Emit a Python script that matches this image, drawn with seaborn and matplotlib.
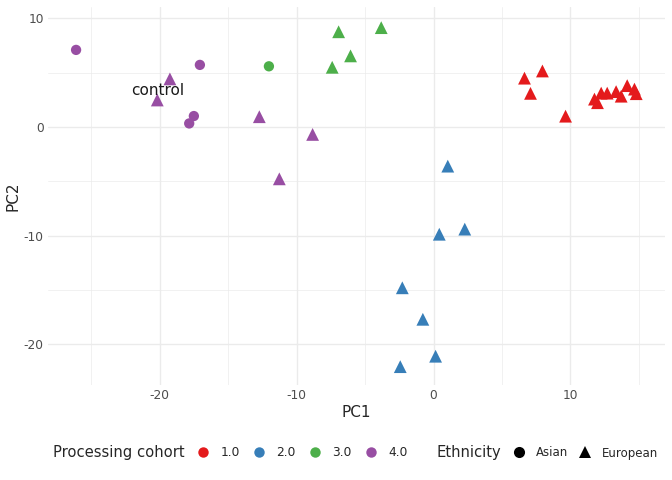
import matplotlib
matplotlib.use("Agg")
import matplotlib.pyplot as plt
from matplotlib.lines import Line2D
from matplotlib.ticker import MultipleLocator
import seaborn as sns
import pandas as pd

# PCA scores
pc1 = [6.64, 7.08, 7.95, 9.64, 11.75, 11.97, 12.24, 12.68, 13.33, 13.70, 14.14, 14.67, 14.80,
       1.04, 0.42, 2.28, -2.28, -0.78, 0.15, -2.43,
       -12.02, -6.93, -3.82, -6.06, -7.40,
       -26.10, -17.06, -17.50, -17.84, -19.25, -20.17, -12.72, -8.83, -11.26]
pc2 = [4.50, 3.10, 5.16, 1.00, 2.57, 2.24, 3.12, 3.12, 3.26, 2.84, 3.81, 3.49, 3.07,
       -3.60, -9.87, -9.40, -14.80, -17.70, -21.10, -22.06,
       5.59, 8.77, 9.15, 6.55, 5.50,
       7.10, 5.72, 1.01, 0.33, 4.43, 2.49, 0.95, -0.68, -4.77]
cohort = ["1.0"] * 13 + ["2.0"] * 7 + ["3.0"] * 5 + ["4.0"] * 9
ethnicity = (["European"] * 13 + ["European"] * 7 + ["Asian"] + ["European"] * 4
             + ["Asian"] * 4 + ["European"] * 5)
sample = [""] * 34
sample[30] = "control"

cohort_levels = ["1.0", "2.0", "3.0", "4.0"]
palette = dict(zip(cohort_levels, ["#E41A1C", "#377EB8", "#4DAF4A", "#984EA3"]))

df = pd.DataFrame({"PC1": pc1, "PC2": pc2, "cohort": cohort,
                   "ethnicity": ethnicity, "sample": sample})

sns.set_theme(style="white")
plt.rcParams["font.family"] = ["DejaVu Sans"]
plt.rcParams["axes.unicode_minus"] = False

fig = plt.figure(figsize=(6.72, 4.8), dpi=100)
ax = fig.add_axes([48 / 672, 1 - 385 / 480, 617 / 672, 378 / 480])

grid = "#EBEBEB"
ax.xaxis.set_major_locator(MultipleLocator(10))
ax.xaxis.set_minor_locator(MultipleLocator(5))
ax.yaxis.set_major_locator(MultipleLocator(10))
ax.yaxis.set_minor_locator(MultipleLocator(5))
ax.grid(which="major", color=grid, lw=1.0)
ax.grid(which="minor", color=grid, lw=0.5)
ax.set_axisbelow(True)
for s in ax.spines.values():
    s.set_visible(False)

asian = df[df["ethnicity"] == "Asian"]
euro = df[df["ethnicity"] == "European"]
sns.scatterplot(data=asian, x="PC1", y="PC2", hue="cohort", hue_order=cohort_levels,
                palette=palette, marker="o", s=55, linewidth=0, legend=False, ax=ax)
sns.scatterplot(data=euro, x="PC1", y="PC2", hue="cohort", hue_order=cohort_levels,
                palette=palette, marker="^", s=85, linewidth=0, legend=False, ax=ax)

for _, r in df[df["sample"] != ""].iterrows():
    ax.text(r["PC1"], r["PC2"] + 0.85, r["sample"], ha="center", va="center",
            fontsize=11, color="#1a1a1a")

ax.set_xlim(-28.15, 16.9)
ax.set_ylim(-23.75, 11.05)
ax.tick_params(which="both", length=0, labelsize=8.8, labelcolor="#4D4D4D", pad=3)
ax.set_xlabel("PC1", fontsize=11)
ax.set_ylabel("PC2", fontsize=11)
ax.xaxis.set_label_coords(0.5, -20 / 378)
ax.yaxis.set_label_coords(-27 / 617, 0.5)

# legends along the bottom
ly = 1 - 453 / 480
fig.text(53 / 672, ly, "Processing cohort", fontsize=10.6, va="center", ha="left")
h1 = [Line2D([], [], ls="", marker="o", ms=7.5, mew=0, color=palette[c]) for c in cohort_levels]
fig.legend(h1, cohort_levels, loc="center left", bbox_to_anchor=(196 / 672, ly),
           ncol=4, frameon=False, fontsize=8.8, handlelength=1.2, handletextpad=0.8,
           columnspacing=1.0, borderpad=0, borderaxespad=0)
fig.text(437 / 672, ly, "Ethnicity", fontsize=10.6, va="center", ha="left")
h2 = [Line2D([], [], ls="", marker=m, ms=8, mew=0, color="black") for m in ["o", "^"]]
fig.legend(h2, ["Asian", "European"], loc="center left", bbox_to_anchor=(512 / 672, ly),
           ncol=2, frameon=False, fontsize=8.5, handlelength=1.2, handletextpad=0.8,
           columnspacing=0.85, borderpad=0, borderaxespad=0)

fig.savefig("out.png", dpi=100)
